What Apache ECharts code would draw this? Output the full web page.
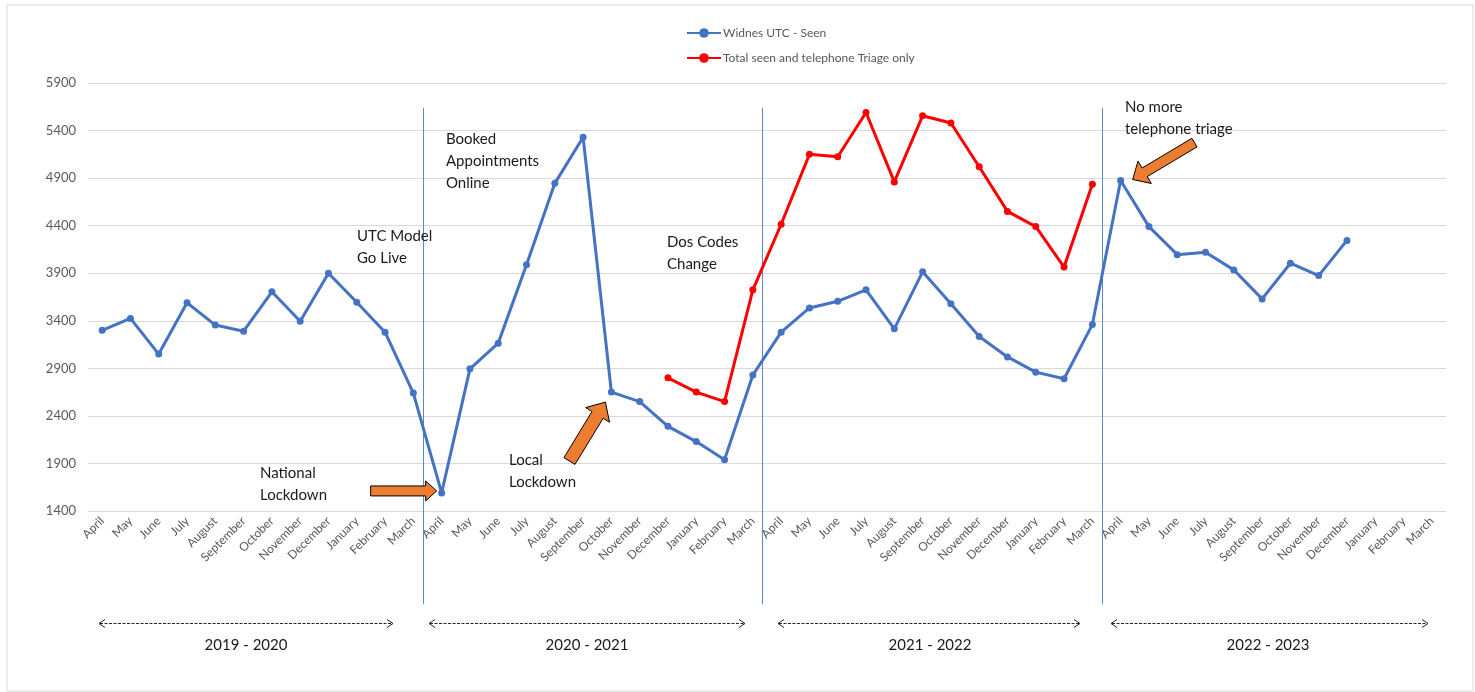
<!DOCTYPE html>
<html>
<head>
<meta charset="utf-8">
<script src="https://cdn.jsdelivr.net/npm/echarts@6/dist/echarts.min.js"></script>
<style>
html,body{margin:0;padding:0;background:#fff;}
#chart{width:1475px;height:692px;}
</style>
</head>
<body>
<div id="chart"></div>
<script>
const months = ['April','May','June','July','August','September','October','November','December','January','February','March'];
const categories = [].concat(months, months, months, months);
const periodLabels = ['2019 - 2020', '2020 - 2021', '2021 - 2022', '2022 - 2023'];
const yTicks = {min: 1400, max: 5900, interval: 500};
const seriesNames = ['Widnes UTC - Seen', 'Total seen and telephone Triage only'];
const seenValues = [
  3300, 3425, 3050, 3590, 3355, 3290, 3705, 3395, 3900, 3595, 3280, 2640,
  1590, 2895, 3165, 3990, 4845, 5330, 2650, 2550, 2290, 2130, 1940, 2830,
  3280, 3535, 3605, 3725, 3315, 3915, 3580, 3235, 3020, 2860, 2790, 3360,
  4875, 4390, 4095, 4120, 3935, 3630, 4005, 3875, 4245, null, null, null
];
const triageValues = [
  null, null, null, null, null, null, null, null, null, null, null, null,
  null, null, null, null, null, null, null, null, 2800, 2650, 2550, 3725,
  4415, 5150, 5125, 5590, 4860, 5555, 5480, 5020, 4550, 4390, 3965, 4835,
  null, null, null, null, null, null, null, null, null, null, null, null
];
const annotations = [
  {text: 'UTC Model\nGo Live', x: 357, y: 225},
  {text: 'Booked\nAppointments\nOnline', x: 446, y: 128},
  {text: 'Dos Codes\nChange', x: 667, y: 231},
  {text: 'No more\ntelephone triage', x: 1125, y: 96},
  {text: 'National\nLockdown', x: 260, y: 462},
  {text: 'Local\nLockdown', x: 509, y: 449}
];

const FONT = 'Lato, "Open Sans", sans-serif';
const chart = echarts.init(document.getElementById('chart'));

chart.setOption({
  animation: false,
  backgroundColor: '#fff',
  legend: {
    orient: 'vertical',
    left: 686,
    top: 27,
    padding: 0,
    itemWidth: 34,
    itemHeight: 12,
    itemGap: 13,
    textStyle: {color: '#595959', fontSize: 12, fontFamily: FONT, padding: [0,0,0,-3]},
    data: seriesNames
  },
  grid: {left: 88, right: 29, top: 83, bottom: 181, containLabel: false},
  xAxis: {
    type: 'category',
    data: categories,
    boundaryGap: true,
    axisLine: {show: false},
    axisTick: {show: false},
    axisLabel: {interval: 0, rotate: 45, color: '#595959', fontSize: 12, fontFamily: FONT, margin: 8}
  },
  yAxis: {
    type: 'value',
    min: yTicks.min, max: yTicks.max, interval: yTicks.interval,
    axisLine: {show: false},
    axisTick: {show: false},
    axisLabel: {color: '#595959', fontSize: 13, fontFamily: FONT, margin: 12, formatter: function (v) { return String(v); }},
    splitLine: {lineStyle: {color: '#d9d9d9', width: 1}}
  },
  series: [
    {
      name: seriesNames[0], type: 'line', data: seenValues,
      connectNulls: false,
      symbol: 'circle', symbolSize: 7,
      lineStyle: {color: '#4472C4', width: 3},
      itemStyle: {color: '#4472C4'}, z: 3
    },
    {
      name: seriesNames[1], type: 'line', data: triageValues,
      connectNulls: false,
      symbol: 'circle', symbolSize: 7,
      lineStyle: {color: '#FF0000', width: 3},
      itemStyle: {color: '#FF0000'}, z: 4
    }
  ]
});

function px(i, v) { return chart.convertToPixel({gridIndex: 0}, [i, v]); }
function blockArrow(tip, ang, len, s, h, hl) {
  const dx = Math.cos(ang), dy = Math.sin(ang);
  const nx = -dy, ny = dx;
  const bx = tip[0] - dx * hl, by = tip[1] - dy * hl;
  const tx = tip[0] - dx * len, ty = tip[1] - dy * len;
  return [
    [tx + nx * s, ty + ny * s], [bx + nx * s, by + ny * s], [bx + nx * h, by + ny * h],
    [tip[0], tip[1]],
    [bx - nx * h, by - ny * h], [bx - nx * s, by - ny * s], [tx - nx * s, ty - ny * s]
  ];
}

const g = [];
g.push({type: 'rect', shape: {x: 7, y: 5, width: 1466, height: 686}, style: {fill: 'none', stroke: '#d9d9d9', lineWidth: 1}, z: 0});

[12, 24, 36].forEach(function (i) {
  const x = Math.round((px(i - 1, 0)[0] + px(i, 0)[0]) / 2 - 5) + 0.5;
  g.push({type: 'line', shape: {x1: x, y1: 108, x2: x, y2: 604}, style: {stroke: '#5B87D0', lineWidth: 1}, z: 1});
});

const arrowSpans = [[99, 393], [429, 745], [778, 1080], [1111, 1428]];
const labelX = [246, 587, 930, 1268];
arrowSpans.forEach(function (sp, k) {
  const y = 623.5;
  g.push({type: 'line', shape: {x1: sp[0] + 1, y1: y, x2: sp[1] - 1, y2: y}, style: {stroke: '#262626', lineWidth: 1, lineDash: [3, 1.5]}});
  g.push({type: 'polyline', shape: {points: [[sp[0] + 6, y - 4], [sp[0], y], [sp[0] + 6, y + 4]]}, style: {stroke: '#262626', lineWidth: 1, fill: null}});
  g.push({type: 'polyline', shape: {points: [[sp[1] - 6, y - 4], [sp[1], y], [sp[1] - 6, y + 4]]}, style: {stroke: '#262626', lineWidth: 1, fill: null}});
  g.push({type: 'text', x: labelX[k], y: 645, style: {text: periodLabels[k], fill: '#1a1a1a', font: '15px ' + FONT, textAlign: 'center', textVerticalAlign: 'middle'}});
});

annotations.forEach(function (a) {
  g.push({type: 'text', x: a.x, y: a.y, style: {text: a.text, fill: '#1a1a1a', font: '15px ' + FONT, lineHeight: 22, textAlign: 'left', textVerticalAlign: 'top'}, z: 5});
});

const pNat = px(12, seenValues[12]);
const pLoc = px(18, seenValues[18]);
const pTel = px(36, seenValues[36]);
const arrows = [
  blockArrow([pNat[0] - 5, pNat[1] - 2], 0, 66, 5, 10, 11),
  blockArrow([pLoc[0] - 6, pLoc[1] + 10], Math.atan2(-59, 36), 69, 6.5, 14, 15),
  blockArrow([pTel[0] + 12, pTel[1] - 1], Math.atan2(37, -62), 72, 5, 13, 14)
];
arrows.forEach(function (pts) {
  g.push({type: 'polygon', shape: {points: pts}, style: {fill: '#ED7D31', stroke: '#000', lineWidth: 1}, z: 6});
});

chart.setOption({graphic: {elements: g}});
</script>
</body>
</html>
